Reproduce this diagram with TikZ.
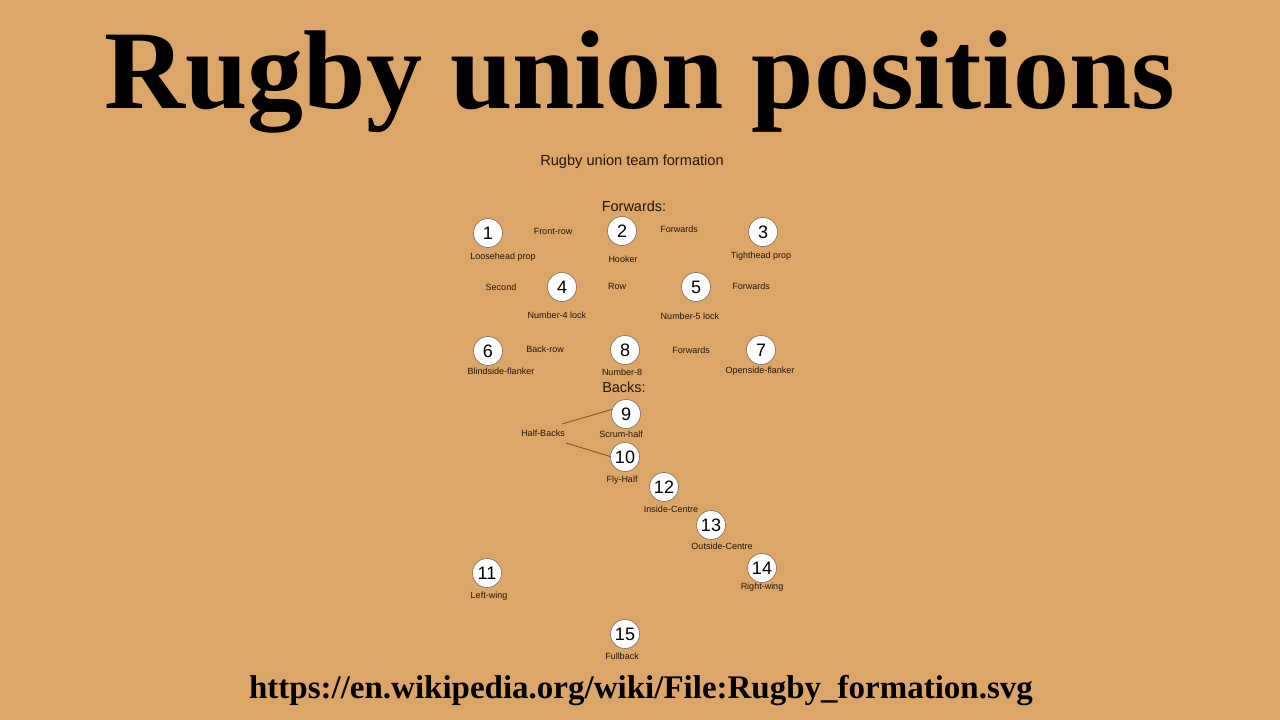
\documentclass[tikz,border=0pt]{standalone}
\usepackage{fontspec}
\setmainfont{Liberation Serif}
\newfontfamily\diag{Liberation Sans}
\definecolor{bgc}{RGB}{220,166,104}
\definecolor{labc}{RGB}{35,22,10}
\definecolor{linec}{RGB}{135,75,35}
\definecolor{ringc}{RGB}{120,110,100}
\begin{document}
\begin{tikzpicture}[x=1pt,y=-1pt,
  player/.style={circle,draw=ringc,line width=0.6pt,fill=white,minimum size=29pt,inner sep=0pt,
    font=\diag\fontsize{18}{18}\selectfont,text=black},
  lab/.style={inner sep=0pt,font=\diag\fontsize{9}{9}\selectfont,text=labc},
  head/.style={inner sep=0pt,font=\diag\fontsize{14.5}{15}\selectfont,text=labc},
  conn/.style={draw=linec,line width=0.8pt}]
\fill[bgc] (0,0) rectangle (1280,720);
\useasboundingbox (0,0) rectangle (1280,720);
\node[anchor=base,inner sep=0pt,font=\fontsize{112}{112}\selectfont\bfseries] (title) at (640,108) {Rugby union positions};
\node[anchor=base,inner sep=0pt,font=\fontsize{33}{33}\selectfont\bfseries] (url) at (641,698) {https://en.wikipedia.org/wiki/File:Rugby\_formation.svg};
\node[inner sep=0pt,font=\diag\fontsize{14.6}{15}\selectfont,text=labc] (sub) at (632,162) {Rugby union team formation};
\node[head] (fw) at (634,206) {Forwards:};
\node[head] (bk) at (624,387) {Backs:};
% players
\node[player] (n1) at (488,233) {1};
\node[player] (n2) at (622,231) {2};
\node[player] (n3) at (763,232) {3};
\node[player] (n4) at (562,287) {4};
\node[player] (n5) at (696,287) {5};
\node[player] (n6) at (488,351) {6};
\node[player] (n8) at (625,350) {8};
\node[player] (n7) at (761,350) {7};
\node[player] (n9) at (626,414) {9};
\node[player] (n10) at (625,457) {10};
\node[player] (n12) at (664,487) {12};
\node[player] (n13) at (711,525) {13};
\node[player] (n11) at (487,573) {11};
\node[player] (n14) at (762,568) {14};
\node[player] (n15) at (625,634) {15};
% labels
\node[lab] (l1) at (503,257) {Loosehead prop};
\node[lab] (fr) at (553,231) {Front-row};
\node[lab] (l2) at (623,259) {Hooker};
\node[lab] (f1) at (679,229) {Forwards};
\node[lab] (l3) at (761,256) {Tighthead prop};
\node[lab] (sr) at (501,287) {Second};
\node[lab] (rw) at (617,286) {Row};
\node[lab] (f2) at (751,286) {Forwards};
\node[lab] (l4) at (557,315) {Number-4 lock};
\node[lab] (l5) at (690,316) {Number-5 lock};
\node[lab] (br) at (545,349) {Back-row};
\node[lab] (f3) at (691,350) {Forwards};
\node[lab] (l6) at (501,371) {Blindside-flanker};
\node[lab] (l8) at (622,372) {Number-8};
\node[lab] (l7) at (760,371) {Openside-flanker};
\node[lab] (l9) at (621,434) {Scrum-half};
\node[lab] (hb) at (543,433) {Half-Backs};
\node[lab] (l10) at (622,480) {Fly-Half};
\node[lab] (l12) at (671,509) {Inside-Centre};
\node[lab] (l13) at (722,546) {Outside-Centre};
\node[lab] (l11) at (489,596) {Left-wing};
\node[lab] (l14) at (762,587) {Right-wing};
\node[lab] (l15) at (622,656) {Fullback};
% connectors
\coordinate (hbA) at (562,424);
\coordinate (hbB) at (566,443);
\draw[conn] (hbA) -- (n9.162);
\draw[conn] (hbB) -- (n10.178);
\end{tikzpicture}
\end{document}
